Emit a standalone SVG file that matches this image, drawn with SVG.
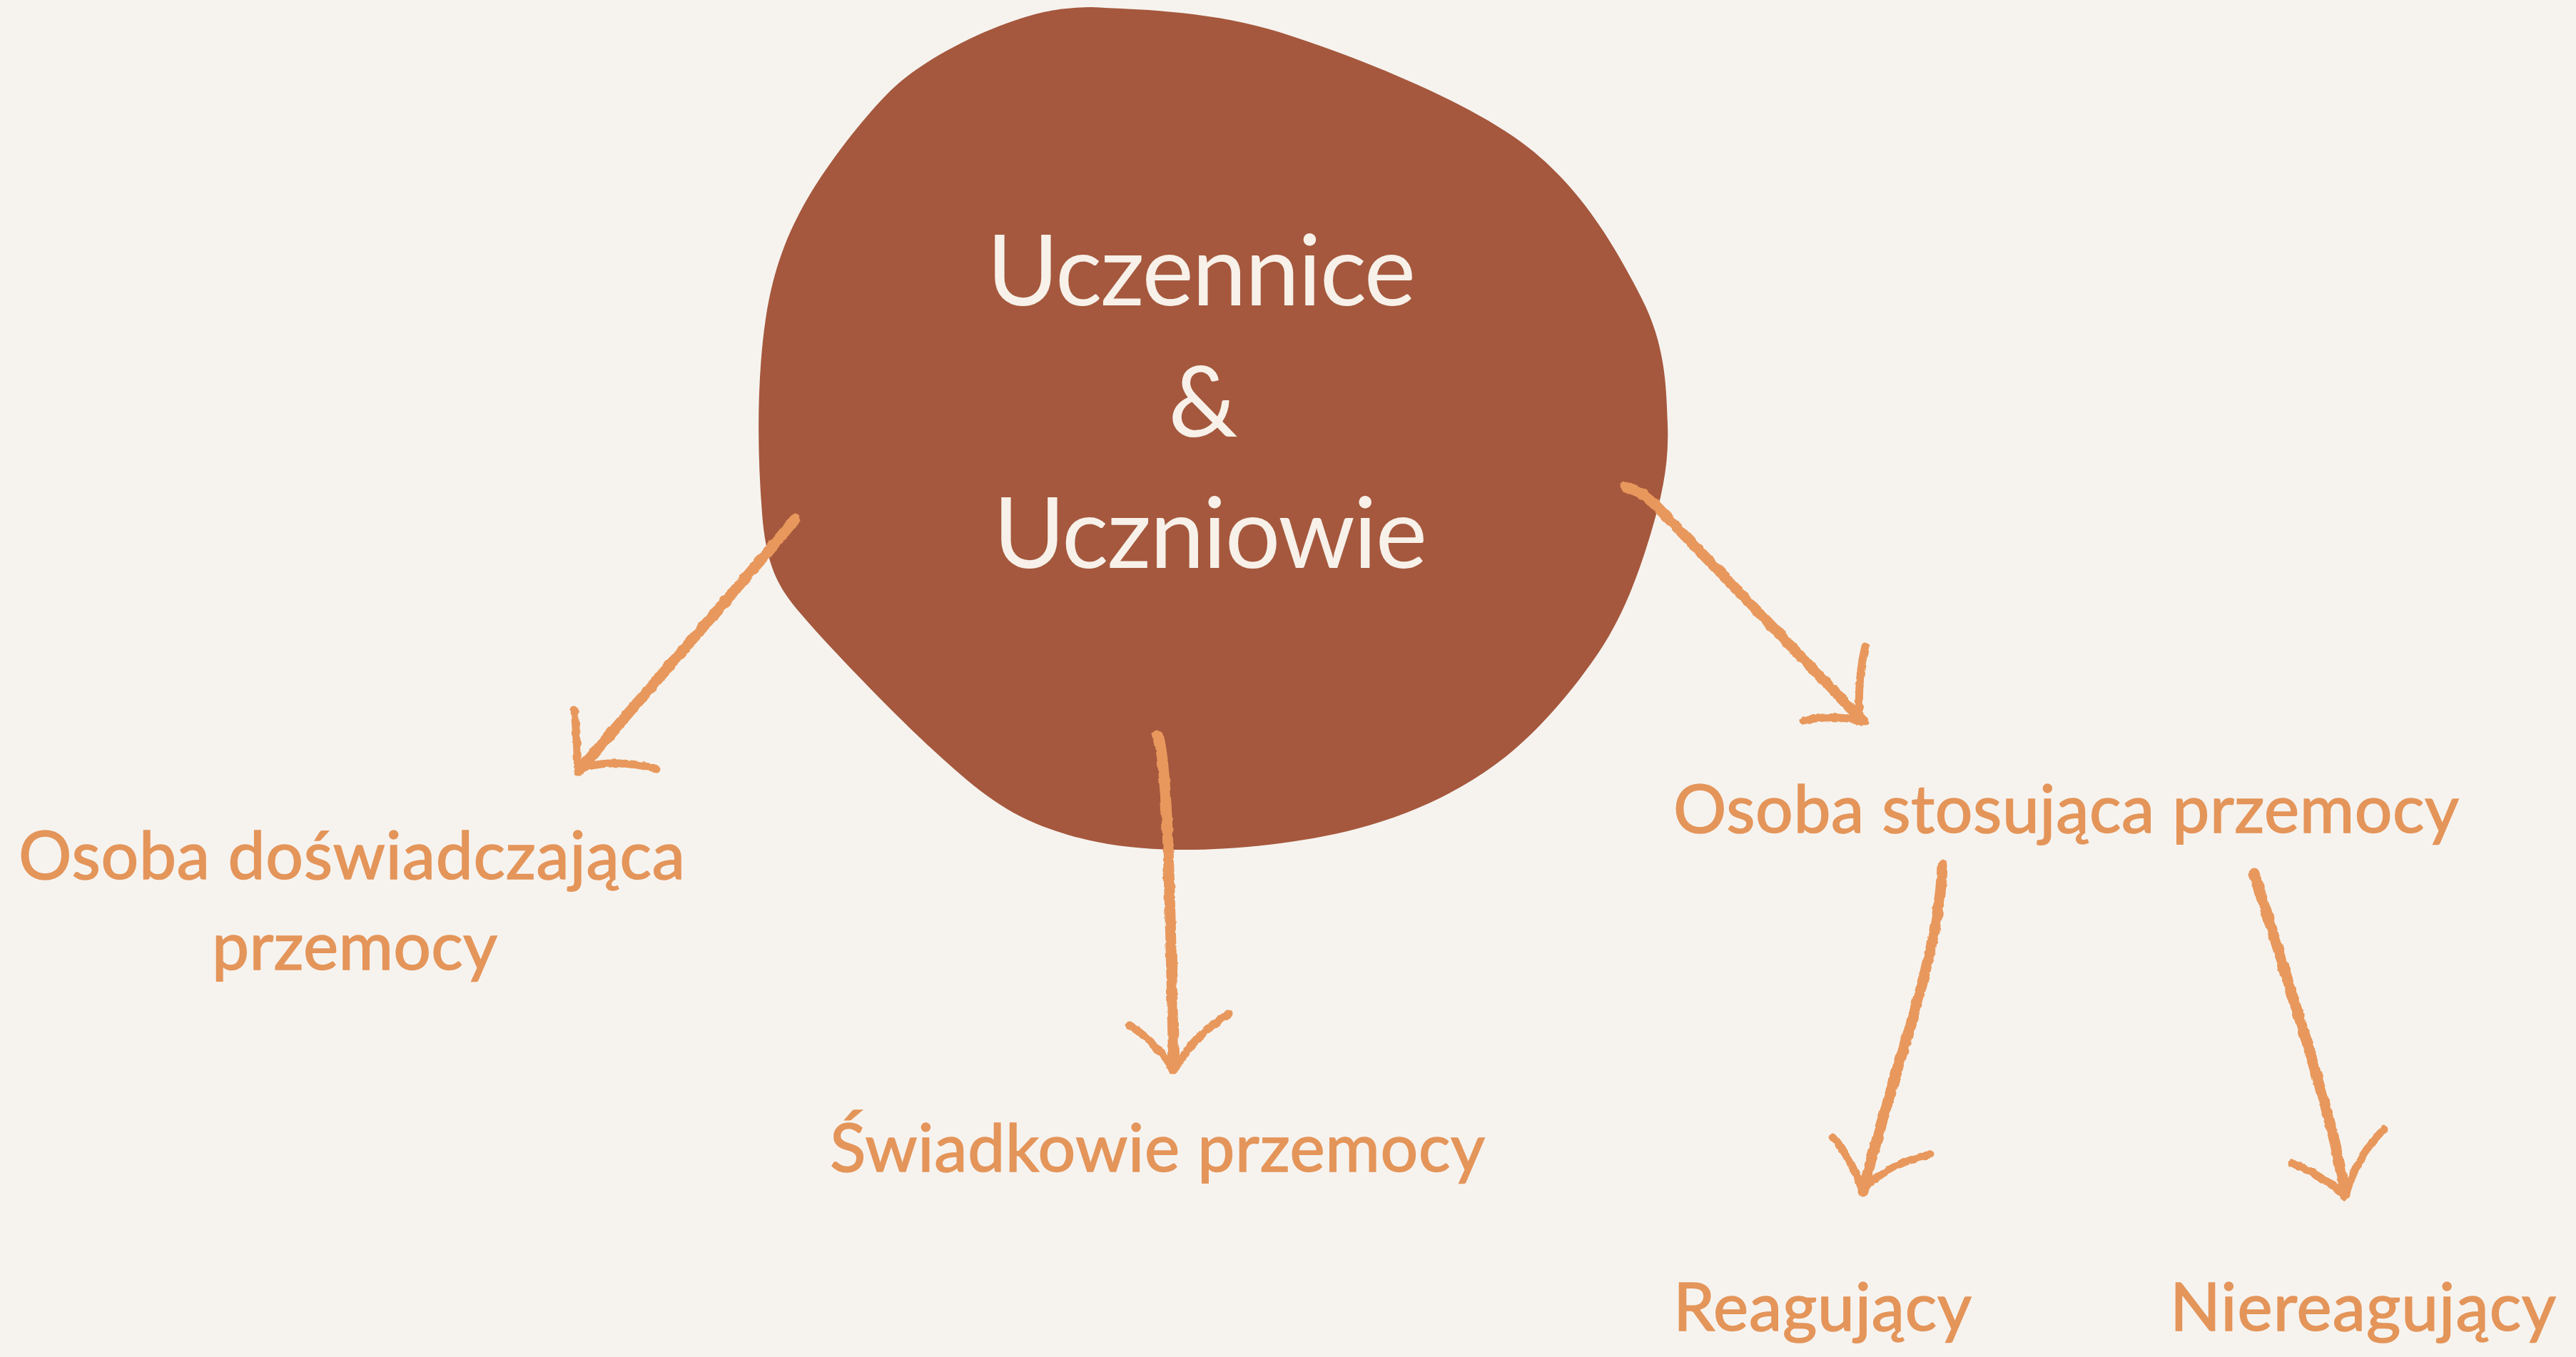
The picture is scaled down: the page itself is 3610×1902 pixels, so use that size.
<svg xmlns="http://www.w3.org/2000/svg" width="3610" height="1902" viewBox="0 0 3610 1902">
<defs>
<style>
.bg{fill:#F6F3EF}
.blob{fill:#A5583D}
.wt{fill:#F7F1EA;font-family:Lato,"Open Sans","Noto Sans",sans-serif;font-size:137px}
.ot{fill:#E4955A;stroke:#E4955A;stroke-width:1.6;font-family:Lato,"Open Sans","Noto Sans",sans-serif;font-size:93px}
.ln{fill:none;stroke:#E8985C;stroke-width:15;stroke-linecap:round;stroke-linejoin:round}
.bb{fill:none;stroke:#E8985C;stroke-width:11;stroke-linecap:round;stroke-linejoin:round}
</style>
<filter id="rough" x="-5%" y="-5%" width="110%" height="110%">
<feTurbulence type="fractalNoise" baseFrequency="0.09" numOctaves="2" seed="3" result="n"/>
<feDisplacementMap in="SourceGraphic" in2="n" scale="5" xChannelSelector="R" yChannelSelector="G"/>
</filter>
</defs>
<rect class="bg" x="0" y="0" width="3610" height="1902"/>
<g id="node-center">
<path class="blob" d="M 1530,10 C 1591,13.3 1695.5,14.3 1796,46 C 1896.5,77.7 2049,138.2 2133,200 C 2217,261.8 2266,351.2 2300,417 C 2334,482.8 2334.8,539.7 2337,595 C 2339.2,650.3 2329.2,695.7 2313,749 C 2296.8,802.3 2276.3,861.2 2240,915 C 2203.7,968.8 2151.7,1030.8 2095,1072 C 2038.3,1113.2 1974.7,1142.2 1900,1162 C 1825.3,1181.8 1721.8,1192.3 1647,1191 C 1572.2,1189.7 1508.3,1178 1451,1154 C 1393.7,1130 1350,1090 1303,1047 C 1256,1004 1160,905 1122,860 C 1095,828 1074,800 1068,720 C 1060,620 1062,520 1073,447 C 1084,374 1105,325 1130,281 C 1155,237 1205,170 1247,128 C 1289,86 1370,45 1430,26 C 1472,13 1495,11 1530,10 Z"/>
<text class="wt" x="1383" y="428" textLength="601">Uczennice</text>
<text class="wt" x="1686" y="612" text-anchor="middle">&amp;</text>
<text class="wt" x="1392" y="796" textLength="608">Uczniowie</text>
</g>
<g id="node-victim">
<text class="ot" x="26" y="1232" textLength="934">Osoba doświadczająca</text>
<text class="ot" x="297" y="1359" textLength="400">przemocy</text>
</g>
<g id="node-witness">
<text class="ot" x="1163" y="1642" textLength="918">Świadkowie przemocy</text>
</g>
<g id="node-perpetrator">
<text class="ot" x="2345" y="1167" textLength="1101">Osoba stosująca przemocy</text>
</g>
<g id="node-reacting">
<text class="ot" x="2345" y="1865" textLength="418">Reagujący</text>
</g>
<g id="node-nonreacting">
<text class="ot" x="3041" y="1865" textLength="541">Niereagujący</text>
</g>
<g id="connectors" filter="url(#rough)">
<path class="ln" d="M 1114,728 C 1030,830 900,975 812,1080"/>
<path class="bb" d="M 805,995 Q 809,1040 810,1082"/>
<path class="bb" d="M 812,1078 Q 855,1062 919,1077"/>
<path class="ln" d="M 1623,1031 C 1638,1080 1640,1300 1645,1499"/>
<path class="bb" d="M 1583,1437 Q 1622,1462 1643,1499"/>
<path class="bb" d="M 1722,1421 Q 1675,1450 1647,1497"/>
<path class="ln" d="M 2278,683 Q 2302,688 2322,710 L 2610,1010"/>
<path class="bb" d="M 2614,906 Q 2603,950 2606,1008"/>
<path class="bb" d="M 2527,1010 Q 2570,1000 2614,1012"/>
<path class="ln" d="M 2722,1213 C 2720,1280 2700,1360 2675,1445 S 2625,1610 2611,1670"/>
<path class="bb" d="M 2569,1594 Q 2592,1620 2610,1668"/>
<path class="bb" d="M 2705,1618 Q 2650,1630 2614,1664"/>
<path class="ln" d="M 3159,1224 C 3180,1290 3215,1400 3247,1509 S 3280,1640 3286,1675"/>
<path class="bb" d="M 3212,1630 Q 3255,1648 3284,1674"/>
<path class="bb" d="M 3341,1583 Q 3306,1615 3288,1672"/>
</g>
</svg>
